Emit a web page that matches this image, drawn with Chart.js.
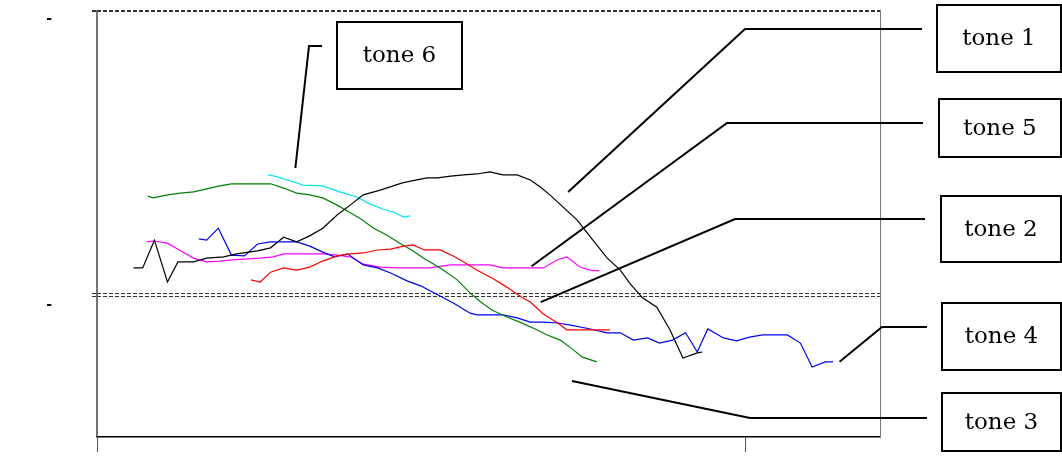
<!DOCTYPE html>
<html>
<head>
<meta charset="utf-8">
<script src="https://cdn.jsdelivr.net/npm/chart.js@4"></script>
<style>
  body { margin: 0; background: #fff; }
  #wrap { width: 1062px; height: 456px; }
</style>
</head>
<body>
<div id="wrap"><canvas id="toneChart" width="1062" height="456"></canvas></div>
<script>
// x = frame index, y = relative height (0..100 of the plot)
var tone1X = [2.8, 3.5, 4.4, 5.4, 6.2, 7.4, 8.4, 9.7, 10.7, 12.3, 13.3, 14.3, 15.3, 16.3, 17.3, 18.4, 19.4, 20.4, 21.7, 23.4, 24.5, 25.3, 26.1, 27.1, 28.1, 29.1, 30.1, 31.1, 32.2, 33.2, 34.0, 34.7, 35.7, 36.8, 38.0, 39.1, 40.1, 40.8, 41.8, 42.9, 43.9, 44.9, 46.0, 46.4];
var tone1Y = [39.6, 39.6, 46.1, 36.3, 41.0, 41.0, 41.9, 42.2, 42.9, 43.6, 44.3, 46.8, 45.7, 47.1, 48.9, 52.0, 54.3, 56.7, 57.8, 59.5, 60.2, 60.7, 60.7, 61.1, 61.4, 61.6, 62.1, 61.4, 61.4, 60.2, 58.5, 56.7, 53.9, 50.8, 46.1, 41.9, 39.1, 36.1, 32.6, 30.4, 25.1, 18.5, 19.7, 19.9];

var tone2X = [11.8, 12.5, 13.3, 14.3, 15.3, 16.3, 17.3, 18.4, 19.4, 20.4, 21.5, 22.5, 23.5, 24.2, 25.1, 26.3, 27.3, 28.1, 29.1, 30.3, 31.4, 32.6, 33.2, 34.2, 35.3, 36.0, 37.0, 38.3, 39.3];
var tone2Y = [36.8, 36.3, 38.6, 39.6, 39.1, 39.8, 41.2, 42.4, 42.9, 43.1, 43.8, 44.0, 44.7, 45.0, 43.8, 43.8, 42.4, 41.0, 39.1, 37.2, 35.1, 32.6, 31.6, 28.8, 26.7, 25.1, 25.1, 25.1, 25.1];

var tone3X = [3.9, 4.3, 5.4, 6.4, 7.4, 8.4, 9.4, 10.3, 11.2, 12.3, 13.3, 14.3, 15.3, 16.3, 17.3, 18.4, 19.4, 20.2, 21.2, 22.2, 23.2, 24.2, 25.0, 26.3, 27.6, 28.6, 29.4, 30.3, 31.4, 32.4, 33.7, 34.5, 35.5, 36.5, 37.2, 38.3];
var tone3Y = [56.4, 56.0, 56.7, 57.1, 57.4, 58.1, 58.8, 59.3, 59.3, 59.3, 59.3, 58.3, 57.1, 56.7, 56.0, 54.3, 52.5, 51.1, 48.9, 47.3, 45.4, 43.6, 41.9, 39.6, 36.8, 33.7, 31.6, 29.7, 28.1, 26.9, 25.1, 23.9, 22.7, 20.4, 18.7, 17.6];

var tone4X = [7.8, 8.4, 9.3, 10.3, 11.3, 12.3, 13.3, 14.3, 15.3, 16.3, 17.3, 18.2, 19.2, 20.4, 21.5, 22.5, 23.8, 24.8, 26.1, 27.3, 28.6, 29.1, 30.1, 31.1, 32.2, 33.2, 34.2, 35.3, 36.3, 37.8, 39.1, 40.1, 41.1, 42.2, 43.1, 44.1, 45.1, 46.0, 46.8, 48.0, 49.0, 50.0, 51.0, 51.8, 52.9, 53.9, 54.8, 55.8, 56.4];
var tone4Y = [46.4, 46.1, 48.9, 42.6, 42.4, 45.2, 45.7, 45.7, 45.7, 44.7, 43.3, 42.2, 42.9, 40.3, 39.6, 38.4, 36.5, 35.4, 33.3, 31.4, 29.0, 28.6, 28.6, 28.6, 27.9, 26.9, 26.9, 26.7, 26.2, 25.3, 24.4, 24.4, 22.7, 23.2, 22.0, 22.7, 24.4, 19.9, 25.3, 23.2, 22.5, 23.4, 23.9, 23.9, 23.9, 22.0, 16.4, 17.6, 17.6];

var tone5X = [3.8, 4.3, 5.4, 6.4, 7.4, 8.4, 9.4, 10.4, 11.5, 12.5, 13.5, 14.3, 15.3, 16.3, 17.3, 18.4, 19.4, 20.4, 21.7, 23.0, 24.2, 25.5, 27.1, 28.6, 30.1, 31.1, 32.2, 33.2, 34.2, 35.3, 36.0, 37.0, 37.8, 38.5];
var tone5Y = [45.7, 45.9, 45.4, 43.6, 41.9, 41.0, 41.2, 41.5, 41.7, 41.9, 42.2, 42.9, 42.9, 42.9, 42.9, 42.6, 42.2, 40.5, 39.8, 39.6, 39.6, 39.6, 40.3, 40.3, 40.3, 39.6, 39.6, 39.6, 39.6, 41.5, 42.2, 39.8, 39.1, 38.9];

var tone6X = [13.1, 13.6, 14.8, 15.8, 17.3, 18.6, 19.9, 20.9, 21.9, 22.7, 23.5, 24.0];
var tone6Y = [61.4, 61.1, 60.0, 59.0, 58.8, 57.4, 56.2, 54.6, 53.4, 52.7, 51.5, 51.8];

// axis ticks
var xTicks = [0, 49.7];
var yTicks = [33.0, 33.7, 99.6, 100];
var yTickLabels = ['-', '', '', '-'];

// callouts: name and the data point each leader line points to
var calloutText = ['tone 1', 'tone 5', 'tone 2', 'tone 4', 'tone 3', 'tone 6'];
var calloutTipX = [36.1, 33.3, 34.0, 56.9, 36.4, 15.2];
var calloutTipY = [57.4, 40.0, 31.6, 17.6, 13.1, 63.0];

// where the callout boxes sit on the canvas (pixels)
var calloutLayout = [
    { elbow: [745, 29], end: [922, 29], box: [937, 5, 124, 67] },
    { elbow: [727, 123], end: [923, 123], box: [939, 99, 122, 58] },
    { elbow: [735, 219], end: [925, 219], box: [941, 196, 120, 66] },
    { elbow: [882, 327], end: [927, 327], box: [942, 303, 119, 67] },
    { elbow: [750, 418], end: [927, 418], box: [942, 393, 119, 58] },
    { elbow: [309, 46], end: [322, 46], box: [337, 22, 125, 67] }
];

function toPoints(xs, ys) {
    return xs.map(function (x, i) { return { x: x, y: ys[i] }; });
}

function series(label, xs, ys, color) {
    return {
        label: label,
        data: toPoints(xs, ys),
        borderColor: color,
        backgroundColor: color,
        borderWidth: 1.2,
        pointRadius: 0,
        fill: false,
        tension: 0
    };
}

// axis frame + callout boxes with leader lines
var calloutPlugin = {
    id: 'callouts',
    afterDraw: function (chart) {
        var ctx = chart.ctx;
        var area = chart.chartArea;
        var xs = chart.scales.x;
        var ys = chart.scales.y;

        ctx.save();
        ctx.setLineDash([]);
        ctx.lineWidth = 1;
        ctx.strokeStyle = '#777';
        ctx.beginPath();
        ctx.moveTo(area.right + 0.5, area.top);
        ctx.lineTo(area.right + 0.5, area.bottom);
        ctx.stroke();
        // left axis line, solid
        ctx.strokeStyle = '#444';
        ctx.lineWidth = 1.5;
        ctx.beginPath();
        ctx.moveTo(area.left, area.top);
        ctx.lineTo(area.left, area.bottom);
        ctx.stroke();

        ctx.strokeStyle = '#000';
        ctx.fillStyle = '#000';
        ctx.lineWidth = 2;
        ctx.font = '23px "DejaVu Serif"';
        ctx.textAlign = 'center';
        ctx.textBaseline = 'middle';
        calloutText.forEach(function (text, i) {
            var lay = calloutLayout[i];
            var tx = xs.getPixelForValue(calloutTipX[i]);
            var ty = ys.getPixelForValue(calloutTipY[i]);
            ctx.beginPath();
            ctx.moveTo(tx, ty);
            ctx.lineTo(lay.elbow[0], lay.elbow[1]);
            ctx.lineTo(lay.end[0], lay.end[1]);
            ctx.stroke();

            var b = lay.box;
            ctx.fillStyle = '#fff';
            ctx.fillRect(b[0], b[1], b[2], b[3]);
            ctx.strokeRect(b[0], b[1], b[2], b[3]);
            ctx.fillStyle = '#000';
            ctx.fillText(text, b[0] + b[2] / 2, b[1] + b[3] / 2 + 1);
        });
        ctx.restore();
    }
};

var ctx = document.getElementById('toneChart').getContext('2d');
new Chart(ctx, {
    type: 'line',
    data: {
        datasets: [
            series('tone 1', tone1X, tone1Y, '#000000'),
            series('tone 2', tone2X, tone2Y, '#ff0000'),
            series('tone 3', tone3X, tone3Y, '#008000'),
            series('tone 4', tone4X, tone4Y, '#0000ff'),
            series('tone 5', tone5X, tone5Y, '#ff00ff'),
            series('tone 6', tone6X, tone6Y, '#00e5ee')
        ]
    },
    options: {
        responsive: false,
        animation: false,
        layout: {
            padding: { top: 10, right: 182, left: 0, bottom: 0 }
        },
        plugins: {
            legend: { display: false },
            tooltip: { enabled: false }
        },
        scales: {
            x: {
                type: 'linear',
                min: 0,
                max: 60,
                afterBuildTicks: function (scale) {
                    scale.ticks = xTicks.map(function (v) { return { value: v }; });
                },
                afterFit: function (scale) {
                    scale.height = 19;
                    scale.paddingLeft = 0;
                    scale.paddingRight = 0;
                },
                ticks: { display: false },
                grid: {
                    drawOnChartArea: false,
                    tickLength: 15,
                    color: '#555'
                },
                border: { color: '#000', width: 1.5 }
            },
            y: {
                min: 0,
                max: 100,
                afterBuildTicks: function (scale) {
                    scale.ticks = yTicks.map(function (v) { return { value: v }; });
                },
                afterFit: function (scale) {
                    scale.width = 97;
                    scale.paddingTop = 0;
                    scale.paddingBottom = 0;
                },
                ticks: {
                    padding: 40,
                    labelOffset: 9,
                    color: '#000',
                    font: { family: 'DejaVu Sans', size: 14, weight: 'bold' },
                    callback: function (value, index) { return yTickLabels[index]; }
                },
                grid: {
                    color: '#333',
                    lineWidth: 1,
                    tickLength: 5,
                    tickBorderDash: [4, 2]
                },
                border: { display: false, dash: [4, 2] }
            }
        }
    },
    plugins: [calloutPlugin]
});
</script>
</body>
</html>
